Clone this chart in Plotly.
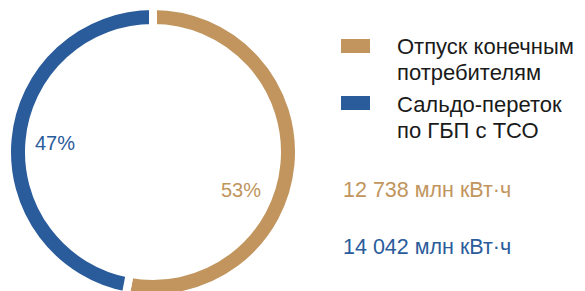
import plotly.graph_objects as go

# ---- data ----
labels = ["Отпуск конечным потребителям", "Сальдо-переток по ГБП с ТСО"]
legend_lines = [["Отпуск конечным", "потребителям"], ["Сальдо-переток", "по ГБП с ТСО"]]
shares = [53, 47]
volumes = [12738, 14042]
unit = "млн кВт·ч"
colors = ["#C1955D", "#2A5C9B"]

W, H = 585, 300
FONT = "Liberation Sans, Arial, sans-serif"

def px(x):
    return x / W

def py(y):
    return 1 - y / H

CX, CY, R = 153, 152, 146

fig = go.Figure()
fig.add_trace(go.Pie(
    labels=labels,
    values=shares,
    marker=dict(colors=colors, line=dict(color="white", width=8)),
    hole=124 / 146,
    sort=False,
    direction="clockwise",
    rotation=0,
    textinfo="none",
    hoverinfo="label+percent",
    showlegend=False,
    domain=dict(x=[px(CX - R), px(CX + R)], y=[py(CY + R), py(CY - R)]),
))

annotations = []
# percent labels inside the ring
pct_pos = [(241, 189.5), (55, 143.5)]
for s, c, (x, y) in zip(shares, colors, pct_pos):
    annotations.append(dict(text=f"{s}%", x=px(x), y=py(y), xref="paper", yref="paper",
                            showarrow=False, xanchor="center", yanchor="middle",
                            font=dict(family=FONT, size=20, color=c)))

# custom legend
swatch_y = [(39, 53), (96, 110)]
line_centers = [[46.5, 72.5], [104.5, 130.5]]
shapes = []
for lines, c, (y0, y1), centers in zip(legend_lines, colors, swatch_y, line_centers):
    shapes.append(dict(type="rect", xref="paper", yref="paper",
                       x0=px(341), x1=px(370), y0=py(y1), y1=py(y0),
                       fillcolor=c, line=dict(width=0)))
    for t, yc in zip(lines, centers):
        annotations.append(dict(text=t, x=px(395), y=py(yc), xref="paper", yref="paper",
                                showarrow=False, xanchor="left", yanchor="middle",
                                font=dict(family=FONT, size=22, color="#1a1a1a")))

# volume texts
vol_y = [190, 247]
for v, c, yc in zip(volumes, colors, vol_y):
    txt = f"{v:,}".replace(",", " ") + " " + unit
    annotations.append(dict(text=txt, x=px(341), y=py(yc), xref="paper", yref="paper",
                            showarrow=False, xanchor="left", yanchor="middle",
                            font=dict(family=FONT, size=21.5, color=c)))

fig.update_layout(
    width=W, height=H,
    margin=dict(l=0, r=0, t=0, b=0),
    paper_bgcolor="white",
    plot_bgcolor="white",
    annotations=annotations,
    shapes=shapes,
    showlegend=False,
)

fig.write_html("out.html", config={"displayModeBar": False},
               post_script="document.body.style.margin='0';document.body.style.overflow='hidden';")
